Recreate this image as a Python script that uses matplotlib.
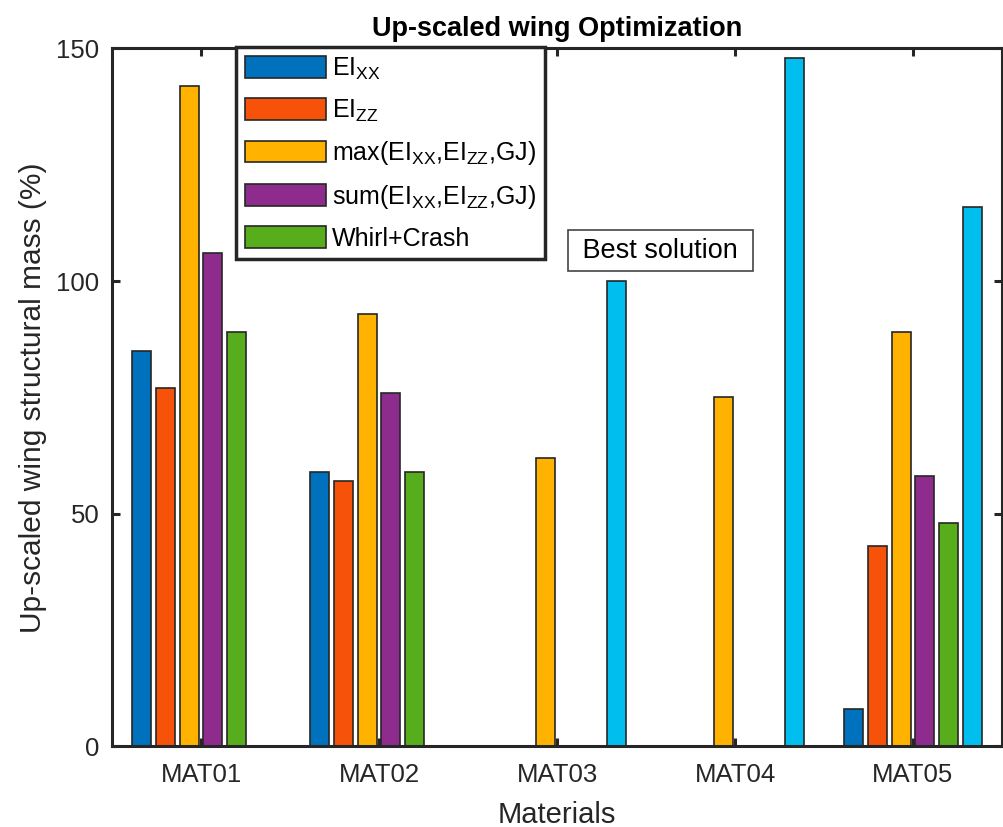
import numpy as np
import matplotlib
matplotlib.use("Agg")
import matplotlib.pyplot as plt

plt.rcParams['font.family'] = ['Liberation Sans', 'DejaVu Sans']
plt.rcParams['mathtext.fontset'] = 'custom'
plt.rcParams['mathtext.rm'] = 'Liberation Sans'
plt.rcParams['mathtext.it'] = 'Liberation Sans'

# data
materials = ["MAT01", "MAT02", "MAT03", "MAT04", "MAT05"]
ei_xx = [85, 59, 0, 0, 8]
ei_zz = [77, 57, 0, 0, 43]
max_all = [142, 93, 62, 75, 89]
sum_all = [106, 76, 0, 0, 58]
whirl_crash = [89, 59, 0, 0, 48]
best = [0, 0, 100, 148, 116]

series = [ei_xx, ei_zz, max_all, sum_all, whirl_crash, best]
labels = [r"EI$_{\mathrm{XX}}$", r"EI$_{\mathrm{ZZ}}$",
          r"max(EI$_{\mathrm{XX}}$,EI$_{\mathrm{ZZ}}$,GJ)",
          r"sum(EI$_{\mathrm{XX}}$,EI$_{\mathrm{ZZ}}$,GJ)",
          "Whirl+Crash"]
colors = ["#0072BD", "#F7520A", "#FFB300", "#8E2C8E", "#57AD1B", "#00BFEE"]

dark = "#262626"

fig = plt.figure(figsize=(10.04, 8.27), dpi=100)
ax = fig.add_axes([0.1116, 0.0975, 0.8864, 0.844])

x = np.arange(1, len(materials) + 1)
n = len(series)
step = 0.8 / n
w = step * 0.8
bars = []
for i, (vals, col) in enumerate(zip(series, colors)):
    b = ax.bar(x + (i - (n - 1) / 2) * step, vals, width=w, color=col,
               edgecolor=dark, linewidth=1.2, zorder=2)
    bars.append(b)

ax.set_xlim(0.5, 5.5)
ax.set_ylim(0, 150)
ax.set_xticks(x)
ax.set_xticklabels(materials)
ax.set_yticks([0, 50, 100, 150])

for s in ax.spines.values():
    s.set_linewidth(2.2)
    s.set_color(dark)
    s.set_zorder(5)
ax.tick_params(direction='in', length=6, width=2.2, color=dark,
               labelcolor=dark, labelsize=18.5, top=True, right=True)
ax.tick_params(axis='x', pad=12)
ax.tick_params(axis='y', pad=9)

ax.set_xlabel("Materials", fontsize=21, color=dark, labelpad=10)
ax.set_ylabel("Up-scaled wing structural mass (%)", fontsize=21.5,
              color=dark, labelpad=7)
ax.set_title("Up-scaled wing Optimization", fontsize=19.5, fontweight='bold',
             pad=9)

ax.text(3.58, 106.5, " Best solution ", fontsize=19.5, ha='center',
        va='center', zorder=4,
        bbox=dict(boxstyle='square,pad=0.28', facecolor='white',
                  edgecolor='#444444', linewidth=1.2))

leg = ax.legend(bars[:5], labels, loc='upper left',
                bbox_to_anchor=(236 / 1004, 1 - 47 / 827),
                bbox_transform=fig.transFigure, borderaxespad=0,
                fontsize=18, handlelength=3.25, handleheight=0.95,
                handletextpad=0.25, labelspacing=0.62, borderpad=0.35,
                fancybox=False, framealpha=1)
leg.get_frame().set_edgecolor(dark)
leg.get_frame().set_linewidth(2.5)
leg.set_zorder(6)

fig.savefig("out.png", dpi=100)
